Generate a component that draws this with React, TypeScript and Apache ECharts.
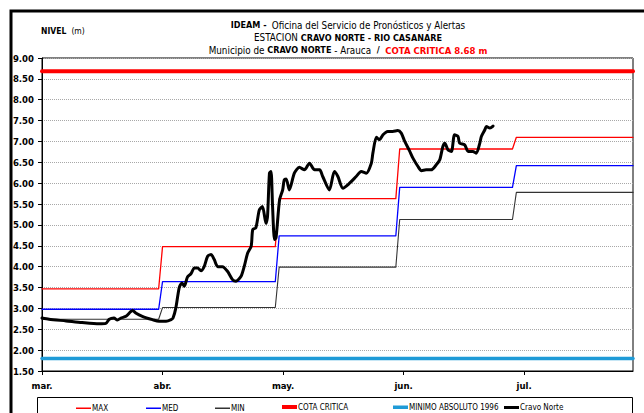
import React, { useEffect, useRef } from "react";
import * as echarts from "echarts";

// Axis: day index counted from 1 March (0) to 31 July (152)
const meses = ["mar.", "abr.", "may.", "jun.", "jul."];
const inicioMes = [0, 31, 61, 92, 122];
const finMes = [30, 60, 91, 121, 152];

// Monthly reference levels (m)
const nivelMax = [3.47, 4.48, 5.63, 6.82, 7.1];
const nivelMed = [2.98, 3.64, 4.74, 5.9, 6.42];
const nivelMin = [2.74, 3.02, 3.99, 5.13, 5.78];

const cotaCritica = 8.68;
const minimoAbsoluto1996 = 1.8;

// Observed levels at Cravo Norte station
const diasCravo = [
  0, 1.8, 6.2, 10.3, 14.7, 16.4, 17.3, 18.5, 19.4, 20.3, 21.6, 22.8, 23.3, 24.1, 25.8, 28.4, 30.1,
  31.9, 33.2, 33.7, 34.4, 35.3, 36.0, 36.6, 37.4, 38.3, 39.2, 40.0, 40.9, 41.7, 42.6, 43.5, 44.3,
  45.2, 46.4, 47.7, 49.0, 49.9, 51.2, 52.0, 52.9, 53.8, 54.2, 55.0, 55.9, 56.7, 57.6, 58.0, 58.5,
  58.9, 59.3, 59.8, 60.2, 61.1, 61.9, 62.3, 62.8, 63.6, 64.9, 66.2, 67.5, 68.8, 70.1, 71.4, 72.2,
  73.9, 75.2, 76.1, 77.4, 79.1, 80.8, 82.1, 83.4, 84.7, 85.1, 86.0, 86.8, 87.7, 88.9, 90.2, 91.5,
  92.4, 93.3, 94.5, 95.4, 96.7, 97.6, 98.8, 100.1, 101.4, 102.3, 103.1, 103.6, 104.4, 105.3, 106.1,
  107.0, 107.4, 108.7, 109.6, 110.8, 111.7, 112.6, 113.0, 113.9, 114.3, 115.2, 116.0,
];
const nivelCravo = [
  2.77, 2.74, 2.7, 2.66, 2.63, 2.64, 2.74, 2.77, 2.72, 2.77, 2.81, 2.92, 2.95, 2.89, 2.81, 2.73, 2.69,
  2.69, 2.73, 2.77, 3.0, 3.5, 3.61, 3.53, 3.75, 3.83, 3.97, 3.97, 3.9, 4.0, 4.25, 4.29, 4.17,
  4.0, 4.0, 3.89, 3.69, 3.65, 3.77, 4.0, 4.33, 4.49, 4.89, 4.93, 5.36, 5.44, 5.04, 5.2, 6.24,
  6.28, 5.44, 4.65, 4.7, 5.6, 5.84, 6.08, 6.1, 5.84, 6.24, 6.38, 6.32, 6.48, 6.32, 6.32, 6.16,
  5.84, 6.28, 6.16, 5.88, 6.0, 6.16, 6.28, 6.24, 6.48, 6.72, 7.1, 7.04, 7.16, 7.24, 7.24, 7.26,
  7.2, 7.0, 6.78, 6.6, 6.4, 6.3, 6.32, 6.32, 6.44, 6.56, 6.88, 6.96, 6.8, 6.76, 7.16,
  7.12, 6.96, 6.92, 6.76, 6.76, 6.72, 6.96, 7.12, 7.28, 7.36, 7.32, 7.37,
];

const FONT = "'DejaVu Sans Condensed', 'Liberation Sans Narrow', sans-serif";

function escalones(valores: number[]): number[][] {
  const pts: number[][] = [];
  valores.forEach((v, i) => {
    pts.push([inicioMes[i], v]);
    pts.push([finMes[i], v]);
  });
  return pts;
}

function horizontal(v: number): number[][] {
  return [
    [inicioMes[0], v],
    [finMes[finMes.length - 1], v],
  ];
}

const nombres = ["MAX", "MED", "MIN", "COTA CRITICA", "MINIMO ABSOLUTO 1996", "Cravo Norte"];
const colores = ["#ff0000", "#0000ff", "#333333", "#ff0000", "#1f9bd7", "#000000"];
const grosores = [1.3, 1.3, 1.1, 4, 3.5, 3];
const leyendaX = [76, 146, 215, 282, 393, 504];

export default function App() {
  const ref = useRef<HTMLDivElement>(null);

  useEffect(() => {
    if (!ref.current) return;
    const chart = echarts.init(ref.current, null, { renderer: "svg" });

    const cravo = diasCravo.map((d, i) => [d, nivelCravo[i]]);
    const datos = [
      escalones(nivelMax),
      escalones(nivelMed),
      escalones(nivelMin),
      horizontal(cotaCritica),
      horizontal(minimoAbsoluto1996),
      cravo,
    ];

    const option: any = {
      animation: false,
      backgroundColor: "#ffffff",
      textStyle: { fontFamily: FONT },
      title: [
        {
          left: 343,
          top: 14,
          textAlign: "center",
          text:
            "{b|IDEAM -} {n|Oficina del Servicio de Pronósticos y Alertas}\n" +
            "{n|ESTACION }{b|CRAVO NORTE - RIO CASANARE}\n" +
            "{n|Municipio de }{b|CRAVO NORTE}{n| - Arauca  }{b|/  }{r|COTA CRITICA 8.68 m}",
          textStyle: {
            fontFamily: FONT,
            fontWeight: "normal",
            lineHeight: 12.5,
            rich: {
              b: { fontFamily: FONT, fontWeight: "bold", fontSize: 9, color: "#000", lineHeight: 12.5 },
              n: { fontFamily: FONT, fontWeight: "normal", fontSize: 9.8, color: "#000", lineHeight: 12.5 },
              r: { fontFamily: FONT, fontWeight: "bold", fontSize: 9.5, color: "#ff0000", lineHeight: 12.5 },
            },
          },
        },
        {
          left: 36,
          top: 17,
          text: "{b|NIVEL} {n|(m)}",
          textStyle: {
            fontFamily: FONT,
            fontWeight: "normal",
            rich: {
              b: { fontFamily: FONT, fontWeight: "bold", fontSize: 8.5, color: "#000" },
              n: { fontFamily: FONT, fontWeight: "normal", fontSize: 8.5, color: "#000" },
            },
          },
        },
      ],
      legend: nombres.map((n, i) => ({
        data: [n],
        left: leyendaX[i],
        top: 405 - Math.max(grosores[i], 1.5) / 2,
        orient: "horizontal",
        icon: "rect",
        itemWidth: 15,
        itemHeight: Math.max(grosores[i], 1.5),
        padding: 0,
        selectedMode: false,
        itemStyle: { color: colores[i], borderWidth: 0 },
        textStyle: { fontFamily: FONT, fontSize: 8, color: "#000", padding: [0, 0, 0, -4] },
      })),
      grid: {
        left: 42,
        right: 11,
        top: 58,
        bottom: 42,
        show: true,
        borderColor: "#000",
        borderWidth: 1,
        backgroundColor: "transparent",
      },
      xAxis: {
        type: "value",
        min: 0,
        max: 152,
        interval: 31,
        axisLine: { show: true, lineStyle: { color: "#000", width: 1 } },
        axisTick: { show: true, length: 4, lineStyle: { color: "#000" } },
        splitLine: { show: false },
        axisLabel: {
          color: "#000",
          fontFamily: FONT,
          fontWeight: "bold",
          fontSize: 9.5,
          margin: 9,
          showMaxLabel: false,
          formatter: (v: number) => (v % 31 === 0 && v / 31 < meses.length ? meses[v / 31] : ""),
        },
      },
      yAxis: {
        type: "value",
        min: 1.5,
        max: 9,
        interval: 0.5,
        axisLine: { show: true, lineStyle: { color: "#000", width: 1 } },
        axisTick: { show: true, length: 4, lineStyle: { color: "#000" } },
        splitLine: { show: true, lineStyle: { color: "#a8a8a8", type: [1, 1], width: 1 } },
        axisLabel: {
          color: "#000",
          fontFamily: FONT,
          fontWeight: "bold",
          fontSize: 9.5,
          margin: 8,
          formatter: (v: number) => v.toFixed(2),
        },
      },
      graphic: [
        {
          type: "rect",
          silent: true,
          shape: { x: 11, y: 11, width: 700, height: 500 },
          style: { fill: "none", stroke: "#000", lineWidth: 3 },
        },
        {
          type: "rect",
          silent: true,
          shape: { x: 37.5, y: 397.5, width: 595, height: 30 },
          style: { fill: "none", stroke: "#000", lineWidth: 1 },
        },
      ],
      series: nombres.map((n, i) => ({
        name: n,
        type: "line",
        data: datos[i],
        symbol: "none",
        smooth: n === "Cravo Norte" ? 0.25 : false,
        lineStyle: { color: colores[i], width: grosores[i], join: "round", cap: "round" },
        itemStyle: { color: colores[i] },
        z: n === "Cravo Norte" ? 5 : 2,
      })),
    };

    chart.setOption(option);
    return () => chart.dispose();
  }, []);

  return (
    <div
      ref={ref}
      style={{ position: "fixed", left: 0, top: 0, width: 644, height: 413, background: "#fff" }}
    />
  );
}
